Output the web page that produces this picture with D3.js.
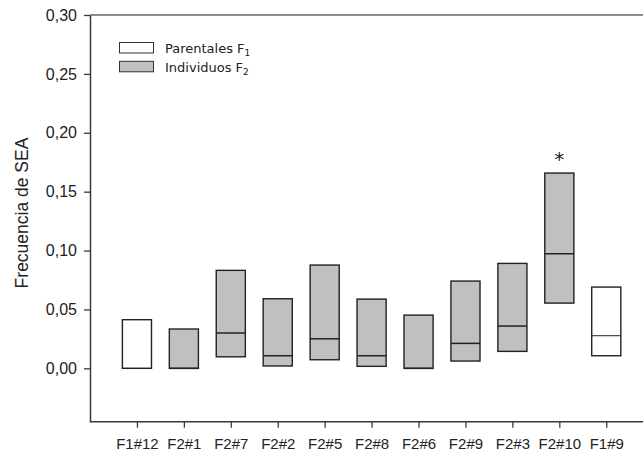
<!DOCTYPE html>
<html><head><meta charset="utf-8">
<script src="https://cdn.jsdelivr.net/npm/d3@7"></script>
<style>body{margin:0;background:#fff}svg{display:block}</style>
</head><body>
<svg id="c" width="643" height="455"></svg>
<script>
const categories = ["F1#12","F2#1","F2#7","F2#2","F2#5","F2#8","F2#6","F2#9","F2#3","F2#10","F1#9"];
const groups     = ["P","F2","F2","F2","F2","F2","F2","F2","F2","F2","P"];
const lows       = [0, 0, 0.0098, 0.0020, 0.0073, 0.0017, 0, 0.0062, 0.0144, 0.0554, 0.0107];
const medians    = [0, 0, 0.0300, 0.0107, 0.0251, 0.0107, 0, 0.0212, 0.0359, 0.0973, 0.0277];
const highs      = [0.0413, 0.0334, 0.0832, 0.0591, 0.0877, 0.0588, 0.0452, 0.0741, 0.0891, 0.1658, 0.0690];
const yTicks     = [0, 0.05, 0.10, 0.15, 0.20, 0.25, 0.30];
const legendLabels = [["Parentales F","1"],["Individuos F","2"]];
const marked = ["F2#10"];

const svg = d3.select("#c");
const L = 90, T = 15, B = 421.7, R = 653.2;
const x = d3.scaleLinear().domain([0, 12]).range([L, R]);
const y = d3.scaleLinear().domain([-0.0453, 0.30]).range([B, T]);
const axisColor = "#3a3a3a";
const fills = {P: "#ffffff", F2: "#c0c0c0"};
const bw = x(0.62) - x(0);

// top frame line
svg.append("line").attr("x1", L).attr("x2", 643).attr("y1", T).attr("y2", T)
  .attr("stroke", "#666").attr("stroke-width", 1.5);

const fmt = d => d3.format(".2f")(d).replace(".", ",");
const yAxis = svg.append("g").attr("transform", `translate(${L},0)`)
  .call(d3.axisLeft(y).tickValues(yTicks).tickFormat(fmt).tickSize(6).tickPadding(7).tickSizeOuter(0));
const xAxis = svg.append("g").attr("transform", `translate(0,${B})`)
  .call(d3.axisBottom(x).tickValues(d3.range(1, categories.length + 1))
    .tickFormat(i => categories[i - 1]).tickSize(6).tickPadding(11).tickSizeOuter(0));
[yAxis, xAxis].forEach(g => {
  g.select(".domain").attr("stroke", axisColor).attr("stroke-width", 1.5);
  g.selectAll(".tick line").attr("stroke", axisColor).attr("stroke-width", 1.3);
  g.selectAll(".tick text").attr("fill", "#222").attr("font-family", "Liberation Sans, Arial, sans-serif");
});
yAxis.selectAll(".tick text").attr("font-size", 16);
xAxis.selectAll(".tick text").attr("font-size", 15);
xAxis.select(".domain").attr("d", `M${L},0H643`);

// y label
svg.append("text").attr("transform", "translate(28,213) rotate(-90)")
  .attr("text-anchor", "middle").attr("font-family", "Liberation Sans, Arial, sans-serif")
  .attr("font-size", 17.5).attr("fill", "#222").text("Frecuencia de SEA");

// boxes
const boxes = svg.append("g");
categories.forEach((c, i) => {
  const cx = x(i + 1);
  boxes.append("rect").attr("x", cx - bw / 2).attr("width", bw)
    .attr("y", y(highs[i])).attr("height", y(lows[i]) - y(highs[i]))
    .attr("fill", fills[groups[i]]).attr("stroke", "#222").attr("stroke-width", 1.4);
  boxes.append("line").attr("x1", cx - bw / 2).attr("x2", cx + bw / 2)
    .attr("y1", y(medians[i])).attr("y2", y(medians[i]))
    .attr("stroke", "#222").attr("stroke-width", groups[i] === "P" ? 1 : 1.5);
  if (marked.includes(c)) {
    boxes.append("text").attr("x", cx).attr("y", y(highs[i]) - 7)
      .attr("text-anchor", "middle").attr("font-family", "DejaVu Sans, sans-serif")
      .attr("font-size", 20).attr("fill", "#222").text("*");
  }
});

// legend
const lg = svg.append("g");
["P", "F2"].forEach((g, k) => {
  const yy = 42.5 + k * 18.8;
  lg.append("rect").attr("x", 119.5).attr("y", yy).attr("width", 34).attr("height", 10.5)
    .attr("fill", fills[g]).attr("stroke", "#333").attr("stroke-width", 1);
  const t = lg.append("text").attr("x", 165).attr("y", yy + 10.5)
    .attr("font-family", "DejaVu Sans, Verdana, sans-serif").attr("font-size", 13).attr("fill", "#222");
  t.append("tspan").text(legendLabels[k][0]);
  t.append("tspan").attr("font-size", 9).attr("dy", 3).text(legendLabels[k][1]);
});
</script>
</body></html>
